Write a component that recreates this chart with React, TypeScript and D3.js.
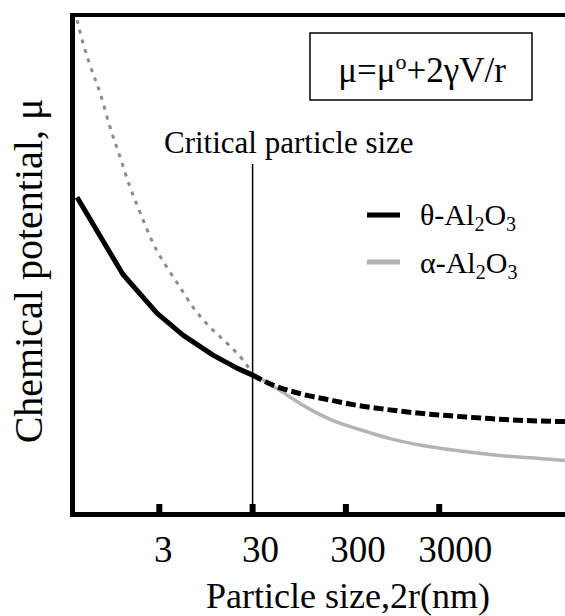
import React from "react";
import * as d3 from "d3";

// particle size (nm) / chemical potential (arb. units, 0..100)
const thetaSmallSize = [0.394, 1.22, 2.83, 5.38, 11.3, 20.4, 30];
const thetaSmallMu = [63.5, 48.1, 40.3, 35.9, 31.9, 29.3, 27.9];
const thetaLargeSize = [30, 49.6, 96.6, 218, 357, 695, 1570, 3640, 10500, 26200, 66800];
const thetaLargeMu = [27.9, 25.9, 24.2, 22.8, 22.0, 21.2, 20.4, 19.8, 19.2, 18.8, 18.6];

const alphaSmallSize = [0.394, 0.456, 0.542, 0.695, 0.888, 1.14, 1.46, 1.96, 2.57, 3.62, 5.0, 6.89, 10.5, 15.9, 23.7, 30];
const alphaSmallMu = [99.0, 94.4, 90.0, 84.4, 77.6, 71.5, 65.5, 59.5, 54.3, 49.5, 45.5, 41.5, 37.5, 34.3, 30.9, 28.2];
const alphaLargeSize = [30, 59, 115, 218, 394, 891, 2000, 4640, 13400, 36000, 66800];
const alphaLargeMu = [28.2, 24.8, 21.4, 18.8, 17.2, 15.2, 13.8, 12.8, 11.8, 11.2, 10.8];

const tickValues = [3, 30, 300, 3000];
const tickLabels = ["3", "30", "300", "3000"];
const criticalSize = 30;

const W = 565;
const H = 616;
const left = 72.5;
const top = 15;
const bottom = 514.5;
const font = '"Liberation Serif", "DejaVu Serif", serif';

const zip = (a: number[], b: number[]) => a.map((v, i) => [v, b[i]] as [number, number]);

export default function App() {
  const x = d3.scaleLog().domain([3, 3000]).range([159.3, 439.2]);
  const y = d3.scaleLinear().domain([0, 100]).range([bottom, top]);

  const lineLin = d3.line<[number, number]>().x(d => x(d[0])).y(d => y(d[1]));
  const lineSmooth = d3
    .line<[number, number]>()
    .x(d => x(d[0]))
    .y(d => y(d[1]))
    .curve(d3.curveMonotoneX);

  const sub = (t: string) => (
    <tspan fontSize={20} dy={6}>{t}</tspan>
  );

  return (
    <svg
      width={W}
      height={H}
      style={{ position: "absolute", left: 0, top: 0, background: "#fff", fontFamily: font }}
    >
      <defs>
        <clipPath id="plot">
          <rect x={left} y={top} width={W - left} height={bottom - top} />
        </clipPath>
      </defs>

      {/* curves */}
      <g clipPath="url(#plot)" fill="none">
        <path d={lineSmooth(zip(alphaSmallSize, alphaSmallMu)) || ""} stroke="#8c8c8c" strokeWidth={3} strokeDasharray="4 6" />
        <path d={lineSmooth(zip(alphaLargeSize, alphaLargeMu)) || ""} stroke="#b4b4b4" strokeWidth={3.5} />
        <path d={lineLin(zip(thetaSmallSize, thetaSmallMu)) || ""} stroke="#000" strokeWidth={5} strokeLinejoin="round" />
        <path d={lineSmooth(zip(thetaLargeSize, thetaLargeMu)) || ""} stroke="#000" strokeWidth={5} strokeDasharray="10 4" />
      </g>

      {/* critical size line */}
      <line x1={x(criticalSize)} x2={x(criticalSize)} y1={164} y2={bottom} stroke="#000" strokeWidth={1.5} />
      <text x={164} y={153} fontSize={31}>Critical particle size</text>

      {/* frame */}
      <line x1={left} x2={left} y1={13} y2={517} stroke="#000" strokeWidth={5} />
      <line x1={70} x2={W} y1={top} y2={top} stroke="#000" strokeWidth={4} />
      <line x1={70} x2={W} y1={bottom} y2={bottom} stroke="#000" strokeWidth={5} />

      {/* ticks */}
      {tickValues.map((t, i) => (
        <g key={t}>
          <line x1={x(t)} x2={x(t)} y1={504} y2={bottom} stroke="#000" strokeWidth={6} />
          <text x={x(t) + 4 + i * 4} y={562} fontSize={37} textAnchor="middle">{tickLabels[i]}</text>
        </g>
      ))}

      {/* axis titles */}
      <text x={348} y={608} fontSize={36} textAnchor="middle">Particle size,2r(nm)</text>
      <text transform="translate(42,271) rotate(-90)" fontSize={40} textAnchor="middle">
        Chemical potential, μ
      </text>

      {/* formula box */}
      <rect x={310} y={33} width={222} height={67} fill="none" stroke="#000" strokeWidth={1.5} />
      <text x={422} y={82} fontSize={35} textAnchor="middle">
        μ=μ<tspan fontSize={22} dy={-13}>o</tspan>
        <tspan dy={13}>+2γV/r</tspan>
      </text>

      {/* legend */}
      <line x1={367} x2={400} y1={215} y2={215} stroke="#000" strokeWidth={5} />
      <text x={420} y={225} fontSize={30}>
        θ-Al{sub("2")}<tspan dy={-6}>O</tspan>{sub("3")}
      </text>
      <line x1={367} x2={400} y1={262} y2={262} stroke="#b4b4b4" strokeWidth={5} />
      <text x={420} y={273} fontSize={30}>
        α-Al{sub("2")}<tspan dy={-6}>O</tspan>{sub("3")}
      </text>
    </svg>
  );
}
